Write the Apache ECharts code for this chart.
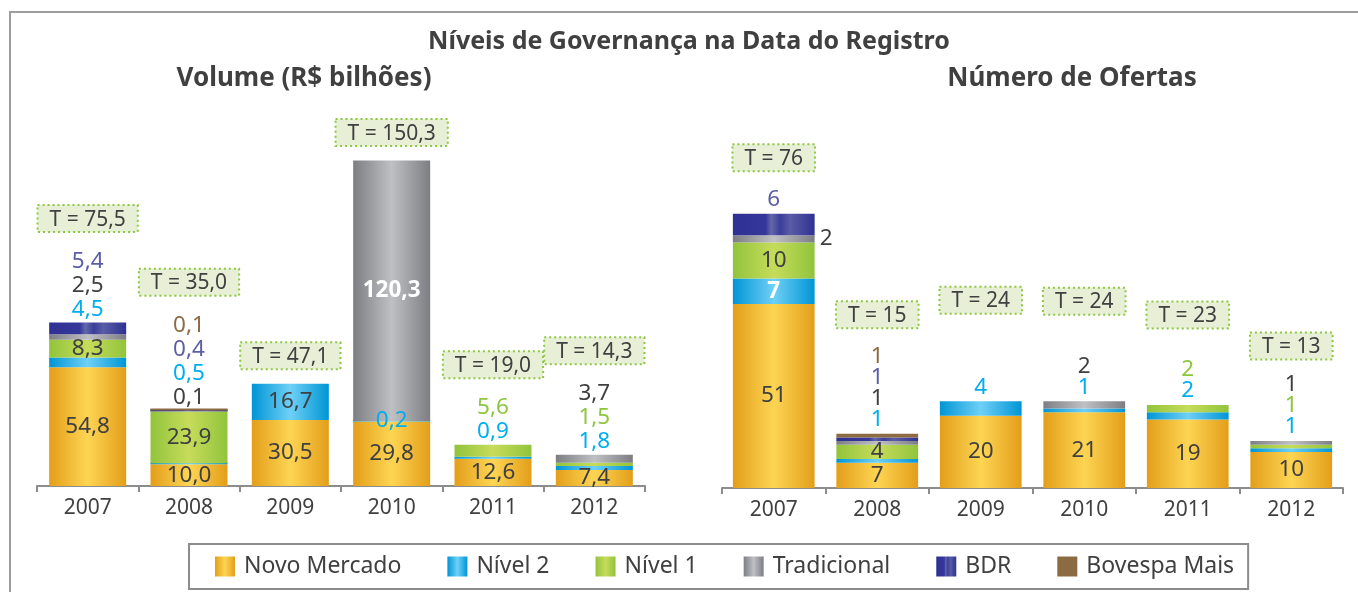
<!DOCTYPE html>
<html>
<head>
<meta charset="utf-8">
<script src="https://cdn.jsdelivr.net/npm/echarts@6/dist/echarts.min.js"></script>
<style>
html,body{margin:0;padding:0;background:#fff;}
#chart{width:1358px;height:592px;}
</style>
</head>
<body>
<div id="chart"></div>
<script>
// ---------- DATA ----------
const years = ['2007', '2008', '2009', '2010', '2011', '2012'];
const seriesNames = ['Novo Mercado', 'Nível 2', 'Nível 1', 'Tradicional', 'BDR', 'Bovespa Mais'];

// Volume (R$ bilhões)
const volNovo = [54.8, 10.0, 30.5, 29.8, 12.6, 7.4];
const volN2   = [4.5, 0.5, 16.7, 0.2, 0.9, 1.8];
const volN1   = [8.3, 23.9, 0, 0, 5.6, 1.5];
const volTrad = [2.5, 0.1, 0, 120.3, 0, 3.7];
const volBDR  = [5.4, 0.4, 0, 0, 0, 0];
const volBM   = [0, 0.1, 0, 0, 0, 0];
const volTotals = [75.5, 35.0, 47.1, 150.3, 19.0, 14.3];

// Número de Ofertas
const numNovo = [51, 7, 20, 21, 19, 10];
const numN2   = [7, 1, 4, 1, 2, 1];
const numN1   = [10, 4, 0, 0, 2, 1];
const numTrad = [2, 1, 0, 2, 0, 1];
const numBDR  = [6, 1, 0, 0, 0, 0];
const numBM   = [0, 1, 0, 0, 0, 0];
const numTotals = [76, 15, 24, 24, 23, 13];

// ---------- LABEL LAYOUT (which labels sit inside / above) ----------
const keys = ['novo', 'n2', 'n1', 'trad', 'bdr', 'bm'];
const volValues = {novo: volNovo, n2: volN2, n1: volN1, trad: volTrad, bdr: volBDR, bm: volBM};
const numValues = {novo: numNovo, n2: numN2, n1: numN1, trad: numTrad, bdr: numBDR, bm: numBM};

const volInside = {
  novo: ['in', 'in', 'in', 'in', 'in', 'in'],
  n2:   ['', '', 'in', 'edge', '', ''],
  n1:   ['in', 'in', '', '', '', ''],
  trad: ['', '', '', 'inw', '', '']
};
const volAbove = [['n2', 'trad', 'bdr'], ['trad', 'n2', 'bdr', 'bm'], [], [], ['n2', 'n1'], ['n2', 'n1', 'trad']];

const numInside = {
  novo: ['in', 'in', 'in', 'in', 'in', 'in'],
  n2:   ['inw', '', '', '', '', ''],
  n1:   ['in', 'in', '', '', '', ''],
  trad: ['side', '', '', '', '', '']
};
const numAbove = [['bdr'], ['n2', 'trad', 'bdr', 'bm'], ['n2'], ['n2', 'trad'], ['n2', 'n1'], ['n2', 'n1', 'trad']];
// extra lift (px) of the total boxes, like a label offset
const volBoxLift = [0, 0, 0, 0, 0, 0];
const numBoxLift = [0, 0, 45, 23, 13, -3];

// ---------- STYLE ----------
const FONT = '"Noto Sans", "Open Sans", sans-serif';
const TXT = '#404040';
function hgrad(stops) {
  return {type: 'linear', x: 0, y: 0, x2: 1, y2: 0,
    colorStops: stops.map(s => ({offset: s[0], color: s[1]}))};
}
const fills = {
  novo: hgrad([[0, '#e39e1a'], [0.5, '#fdd553'], [1, '#e39e1a']]),
  n2:   hgrad([[0, '#0095d5'], [0.5, '#6ed0f6'], [1, '#0095d5']]),
  n1:   hgrad([[0, '#92c43b'], [0.5, '#c6dc5b'], [1, '#92c43b']]),
  trad: hgrad([[0, '#7d7e83'], [0.5, '#bfc0c4'], [1, '#7d7e83']]),
  bdr:  hgrad([[0, '#2e3192'], [0.4, '#35389a'], [0.47, '#6466ab'], [0.58, '#3b3e9a'], [0.7, '#5a5ca6'], [1, '#2e3192']]),
  bm:   '#8c6b43'
};
const labelColors = {novo: TXT, n2: '#00aeef', n1: '#8dc63f', trad: TXT, bdr: '#5b5ea6', bm: '#8c6b43'};

const fmtVol = v => v.toFixed(1).replace('.', ',');
const fmtNum = v => String(v);

const measureCtx = document.createElement('canvas').getContext('2d');
function textWidth(t, font) { measureCtx.font = font; return measureCtx.measureText(t).width; }

function barSeries(values, inside, gridIdx, stack, fmt, width) {
  return keys.map((k, s) => ({
    type: 'bar',
    name: seriesNames[s],
    stack: stack,
    xAxisIndex: gridIdx,
    yAxisIndex: gridIdx,
    barWidth: width,
    barMinHeight: 2,
    itemStyle: {color: fills[k]},
    emphasis: {disabled: true},
    data: values[k].map((v, i) => {
      const item = {value: v === 0 ? '-' : v};
      const m = (inside[k] || [])[i] || '';
      if (m) {
        const lab = {show: true, formatter: fmt(v), fontFamily: FONT, fontSize: 22.5, color: TXT, position: 'inside'};
        if (m === 'inw') { lab.color = '#ffffff'; lab.fontWeight = 'bold'; }
        if (m === 'edge') { lab.color = labelColors[k]; }
        if (m === 'side') { lab.position = 'right'; lab.distance = 5; }
        item.label = lab;
      }
      return item;
    })
  }));
}

function aboveSeries(values, above, totals, lift, gridIdx, fmt, cfg) {
  const sums = years.map((y, i) => keys.reduce((a, k) => a + values[k][i], 0));
  return {
    type: 'custom',
    name: 'labels' + gridIdx,
    xAxisIndex: gridIdx,
    yAxisIndex: gridIdx,
    silent: true,
    z: 5,
    data: sums.map((s, i) => [i, s]),
    renderItem: function (params, api) {
      const i = params.dataIndex;
      const p = api.coord([api.value(0), api.value(1)]);
      const list = above[i];
      const children = [];
      list.forEach((k, n) => {
        children.push({type: 'text', style: {
          text: fmt(values[k][i]), x: p[0], y: p[1] - cfg.first - n * cfg.gap,
          align: 'center', verticalAlign: 'middle', fill: labelColors[k],
          font: '22.5px ' + FONT}});
      });
      const boxY = (list.length ? p[1] - cfg.first - (list.length - 1) * cfg.gap - cfg.boxGap : p[1] - cfg.boxOnly) - lift[i];
      const txt = 'T = ' + fmt(totals[i]);
      const font = '21px ' + FONT;
      const w = textWidth(txt, font) + 24, h = 27;
      children.push({type: 'rect', shape: {x: p[0] - w / 2, y: boxY - h / 2, width: w, height: h},
        style: {fill: '#e7f0d7', stroke: '#8dc63f', lineWidth: 2, lineDash: [2, 3]}});
      children.push({type: 'text', style: {text: txt, x: p[0], y: boxY + 1, align: 'center',
        verticalAlign: 'middle', fill: TXT, font: font}});
      return {type: 'group', children: children};
    }
  };
}

const xAxisCommon = {
  type: 'category', data: years,
  axisLine: {lineStyle: {color: '#8c8c8c', width: 2}},
  axisTick: {show: true, length: 6, lineStyle: {color: '#8c8c8c', width: 2}},
  axisLabel: {color: TXT, fontFamily: FONT, fontSize: 21, margin: 12, interval: 0}
};

const chart = echarts.init(document.getElementById('chart'), null, {renderer: 'canvas'});
chart.setOption({
  animation: false,
  backgroundColor: '#ffffff',
  grid: [
    {left: 37, top: 139.6, width: 608, height: 346.4},
    {left: 722, top: 199.2, width: 621, height: 288.8}
  ],
  xAxis: [Object.assign({gridIndex: 0}, xAxisCommon), Object.assign({gridIndex: 1}, xAxisCommon)],
  yAxis: [
    {gridIndex: 0, type: 'value', min: 0, max: 160, show: false},
    {gridIndex: 1, type: 'value', min: 0, max: 80, show: false}
  ],
  legend: {
    data: seriesNames,
    left: 189, top: 544,
    orient: 'horizontal',
    icon: 'rect',
    itemWidth: 20, itemHeight: 20, itemGap: 46,
    padding: [11, 14, 11, 26],
    borderColor: '#8c8c8c', borderWidth: 2,
    selectedMode: false,
    textStyle: {color: TXT, fontFamily: FONT, fontSize: 23, padding: [0, 0, 0, 4]}
  },
  graphic: [
    {type: 'rect', silent: true, z: -1, shape: {x: 10, y: 12, width: 1400, height: 700},
      style: {fill: 'none', stroke: '#9d9d9d', lineWidth: 2}},
    {type: 'text', style: {text: 'Níveis de Governança na Data do Registro', x: 689, y: 42,
      align: 'center', verticalAlign: 'middle', fill: TXT, font: 'bold 25px ' + FONT}},
    {type: 'text', style: {text: 'Volume (R$ bilhões)', x: 304, y: 79,
      align: 'center', verticalAlign: 'middle', fill: TXT, font: 'bold 26px ' + FONT}},
    {type: 'text', style: {text: 'Número de Ofertas', x: 1072, y: 79,
      align: 'center', verticalAlign: 'middle', fill: TXT, font: 'bold 26px ' + FONT}}
  ],
  series: [].concat(
    barSeries(volValues, volInside, 0, 'vol', fmtVol, '76%'),
    barSeries(numValues, numInside, 1, 'num', fmtNum, '79%'),
    [aboveSeries(volValues, volAbove, volTotals, volBoxLift, 0, fmtVol, {first: 13, gap: 24, boxGap: 43, boxOnly: 28}),
     aboveSeries(numValues, numAbove, numTotals, numBoxLift, 1, fmtNum, {first: 14, gap: 21, boxGap: 42, boxOnly: 28})]
  )
});
</script>
</body>
</html>
